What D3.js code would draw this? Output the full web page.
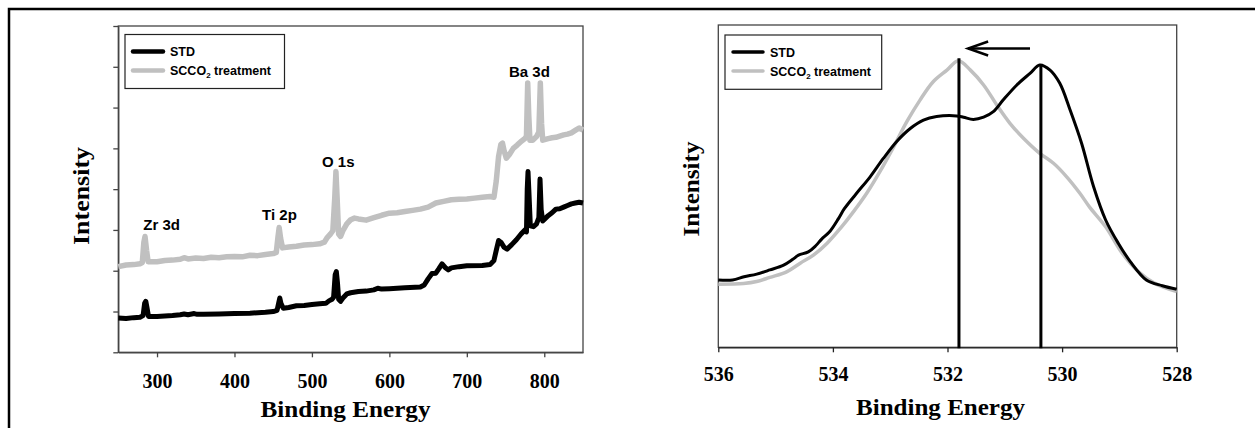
<!DOCTYPE html>
<html><head><meta charset="utf-8">
<script src="https://cdn.jsdelivr.net/npm/d3@7"></script>
<style>body{margin:0;background:#fff}svg{display:block}</style>
</head><body>
<svg id="c" width="1255" height="428"></svg>
<script>
// ---------- DATA ----------
const seriesNames = ["STD", "SCCO2 treatment"];
// Survey spectrum (left panel): [binding energy, intensity (arb.)]
const surveyStd = [[250,0.84],[260,0.83],[270,0.85],[278,0.86],[282,0.9],[284,1.2],[285.5,1.25],[287,1.1],[289,0.88],[300,0.88],[310,0.89],[320,0.9],[330,0.92],[335,0.94],[340,0.92],[348,0.95],[352,0.93],[360,0.93],[380,0.94],[400,0.95],[420,0.96],[440,0.98],[450,1.0],[455,1.03],[457,1.2],[458.5,1.33],[460,1.2],[463,1.08],[470,1.1],[480,1.14],[490,1.15],[500,1.17],[510,1.19],[518,1.2],[522,1.26],[526,1.3],[528,1.35],[530,1.9],[531.5,1.98],[533,1.7],[534.5,1.3],[537,1.25],[540,1.33],[545,1.43],[550,1.46],[560,1.49],[570,1.5],[580,1.53],[585,1.57],[590,1.55],[600,1.56],[620,1.58],[640,1.6],[645,1.65],[650,1.8],[655,1.93],[660,1.94],[664,2.05],[668,2.17],[672,2.08],[676,2.02],[680,2.07],[690,2.1],[700,2.12],[720,2.13],[730,2.15],[735,2.25],[738,2.5],[741,2.74],[744,2.7],[748,2.58],[752,2.53],[758,2.64],[764,2.76],[770,2.9],[775,3.0],[777,2.95],[778,4.0],[779,4.43],[780,4.0],[782,3.1],[786,3.08],[790,3.15],[793,3.3],[794.5,4.25],[796,3.5],[798,3.22],[805,3.35],[810,3.42],[815,3.51],[820,3.52],[825,3.56],[830,3.6],[835,3.64],[840,3.66],[845,3.68],[850,3.66]];
const surveyScco2 = [[250,2.1],[260,2.14],[270,2.15],[278,2.17],[281,2.2],[283,2.7],[284.5,2.84],[286.5,2.5],[288.5,2.22],[300,2.22],[310,2.25],[320,2.26],[330,2.28],[335,2.32],[340,2.29],[350,2.31],[360,2.3],[370,2.33],[380,2.32],[390,2.34],[400,2.35],[410,2.34],[420,2.38],[430,2.37],[440,2.4],[450,2.42],[454,2.45],[456,2.8],[457.7,3.06],[459.5,2.8],[462,2.56],[470,2.58],[480,2.6],[490,2.63],[500,2.64],[510,2.66],[516,2.7],[520,2.82],[524,2.9],[527,2.98],[529.5,3.8],[531,4.43],[532.5,3.8],[534.5,2.9],[537,2.84],[540,2.98],[545,3.15],[550,3.25],[555,3.29],[560,3.27],[570,3.24],[580,3.3],[590,3.36],[600,3.41],[610,3.42],[620,3.45],[630,3.48],[640,3.51],[650,3.56],[660,3.66],[670,3.7],[680,3.74],[690,3.75],[700,3.76],[710,3.78],[720,3.8],[730,3.82],[735,3.8],[738,4.2],[741,4.8],[744,5.1],[746,5.13],[748,4.95],[751,4.76],[755,4.85],[760,5.0],[765,5.08],[770,5.17],[775,5.24],[777,5.3],[778.6,6.6],[780,5.8],[781.5,5.2],[785,5.2],[790,5.29],[793,5.4],[794.9,6.6],[796.5,5.6],[798,5.2],[805,5.24],[810,5.26],[815,5.27],[820,5.3],[825,5.33],[830,5.35],[835,5.38],[840,5.44],[845,5.5],[850,5.45]];
const surveyTicksX = [300,400,500,600,700,800];
const surveyTicksY = [0,1,2,3,4,5,6,7,8];
const peakLabels = [{t:"Zr 3d",e:282.3,v:3.0},{t:"Ti 2p",e:435.7,v:3.24},{t:"O 1s",e:513,v:4.54},{t:"Ba 3d",e:754.4,v:6.75}];

// O 1s spectrum (right panel): [binding energy, intensity (arb.)]
const o1sStd = [[536,20.9],[535.75,20.9],[535.55,21.9],[535.33,22.7],[535.1,24],[534.86,25.5],[534.7,27.3],[534.6,28.6],[534.43,29.6],[534.3,31.5],[534.2,33.5],[534.05,36],[533.9,40],[533.8,43],[533.6,47.5],[533.35,52.9],[533.12,58.6],[532.89,63.8],[532.65,67.9],[532.42,70.5],[532.19,71.6],[531.84,71.8],[531.72,71.4],[531.55,70.7],[531.37,71.4],[531.2,73.1],[531.03,76.7],[530.79,81.4],[530.56,85],[530.39,87.6],[530.21,86],[530.04,81.9],[529.86,73.6],[529.66,63.3],[529.45,49.8],[529.24,39.5],[529.02,32.3],[528.81,26.6],[528.53,20.9],[528.25,19.1],[528,18]];
const o1sScco2 = [[536,19.6],[535.56,19.8],[535.33,20.4],[535.1,21.7],[534.8,23.5],[534.57,26.1],[534.34,28.6],[534.1,32.3],[533.87,36.9],[533.64,42.1],[533.41,47.8],[533.18,54.5],[532.94,62.2],[532.71,70],[532.48,76.7],[532.25,82.4],[532.01,86],[531.81,88.9],[531.6,86],[531.37,81.4],[531.14,75.2],[530.91,69.5],[530.67,64.8],[530.39,60.2],[530.15,57.1],[529.92,52.9],[529.69,47.8],[529.52,43.5],[529.24,37.4],[528.95,29.2],[528.67,23.5],[528.39,19.9],[528,17.3]];
const o1sTicksX = [536,534,532,530,528];
const peakMarkers = [{e:531.8,v:89.7},{e:530.37,v:87.9}];
const shiftArrow = {from:530.56,to:531.64,v:92.7};

// ---------- DRAW ----------
const svg = d3.select("#c");
const GRAY = "#c0c0c0";
const serif = "'Liberation Serif','Times New Roman',serif";
const sans = "'Liberation Sans',Arial,sans-serif";

// outer frame (clipped at right/bottom)
svg.append("path").attr("d","M9,428V9H1255").attr("fill","none").attr("stroke","#000").attr("stroke-width",2.5);

function legend(g, x, y, w, h, lw, lines) {
  g.append("rect").attr("x",x).attr("y",y).attr("width",w).attr("height",h)
    .attr("fill","#fff").attr("stroke","#222").attr("stroke-width",1.2);
  lines.forEach((d,i)=>{
    const yy = y + 17 + i*19;
    g.append("line").attr("x1",x+8).attr("x2",x+38).attr("y1",yy).attr("y2",yy)
      .attr("stroke",d.c).attr("stroke-width",lw).attr("stroke-linecap","round");
    const t = g.append("text").attr("x",x+45).attr("y",yy+4.5)
      .attr("font-family",sans).attr("font-weight","bold").attr("font-size",12.5).attr("fill","#000");
    if (d.n === "SCCO2 treatment") {
      t.append("tspan").text("SCCO");
      t.append("tspan").attr("font-size",8).attr("dy",3).text("2");
      t.append("tspan").attr("dy",-3).text(" treatment");
    } else t.text(d.n);
  });
}

// ---- Left panel ----
{
  const L = {l:118.3, r:583, t:26, b:352.3};
  const x = d3.scaleLinear().domain([250,850]).range([L.l,L.r]);
  const y = d3.scaleLinear().domain([0,8]).range([L.b,L.t]);
  const g = svg.append("g");
  g.append("rect").attr("x",L.l).attr("y",L.t).attr("width",L.r-L.l).attr("height",L.b-L.t)
    .attr("fill","none").attr("stroke","#444").attr("stroke-width",1.3);
  const xa = g.append("g").attr("transform",`translate(0,${L.b})`)
    .call(d3.axisBottom(x).tickValues(surveyTicksX).tickSize(5).tickPadding(17).tickSizeOuter(0));
  xa.select(".domain").attr("stroke","#444").attr("stroke-width",1.3);
  xa.selectAll(".tick line").attr("stroke","#444").attr("stroke-width",1.3);
  xa.selectAll("text").attr("font-family",serif).attr("font-weight","bold").attr("font-size",20).attr("fill","#000");
  const ya = g.append("g").attr("transform",`translate(${L.l},0)`)
    .call(d3.axisLeft(y).tickValues(surveyTicksY).tickSize(5).tickFormat("").tickSizeOuter(0));
  ya.select(".domain").attr("stroke","#444").attr("stroke-width",1.3);
  ya.selectAll(".tick line").attr("stroke","#444").attr("stroke-width",1.3);

  const line = d3.line().x(d=>x(d[0])).y(d=>y(d[1]));
  g.append("path").datum(surveyScco2).attr("d",line).attr("fill","none").attr("stroke",GRAY).attr("stroke-width",5.5).attr("stroke-linejoin","round");
  g.append("path").datum(surveyStd).attr("d",line).attr("fill","none").attr("stroke","#000").attr("stroke-width",5).attr("stroke-linejoin","round");

  g.selectAll(".pl").data(peakLabels).join("text").attr("x",d=>x(d.e)).attr("y",d=>y(d.v))
    .attr("font-family",sans).attr("font-weight","bold").attr("font-size",15).attr("fill","#000").text(d=>d.t);

  legend(g, 125, 34.5, 159.5, 54, 4.5, [{n:seriesNames[0],c:"#000"},{n:seriesNames[1],c:GRAY}]);

  g.append("text").attr("x",345.5).attr("y",416.5).attr("text-anchor","middle")
    .attr("font-family",serif).attr("font-weight","bold").attr("font-size",24)
    .attr("textLength",170).attr("lengthAdjust","spacingAndGlyphs").text("Binding Energy");
  g.append("text").attr("transform","translate(89,196) rotate(-90)").attr("text-anchor","middle")
    .attr("font-family",serif).attr("font-weight","bold").attr("font-size",24)
    .attr("textLength",98).attr("lengthAdjust","spacingAndGlyphs").text("Intensity");
}

// ---- Right panel ----
{
  const R = {l:718.3, r:1176.7, t:25, b:347.3};
  const x = d3.scaleLinear().domain([536,528]).range([R.l,R.r]);
  const y = d3.scaleLinear().domain([0,100]).range([R.b,R.t]);
  const g = svg.append("g");
  g.append("rect").attr("x",R.l).attr("y",R.t).attr("width",R.r-R.l).attr("height",R.b-R.t)
    .attr("fill","none").attr("stroke","#444").attr("stroke-width",1.3);
  const xa = g.append("g").attr("transform",`translate(0,${R.b})`)
    .call(d3.axisBottom(x).tickValues(o1sTicksX).tickSize(5).tickPadding(15).tickSizeOuter(0));
  xa.select(".domain").attr("stroke","#222").attr("stroke-width",1.3);
  xa.selectAll(".tick line").attr("stroke","#222").attr("stroke-width",1.3);
  xa.selectAll("text").attr("font-family",serif).attr("font-weight","bold").attr("font-size",20).attr("fill","#000");

  const line = d3.line().x(d=>x(d[0])).y(d=>y(d[1])).curve(d3.curveCatmullRom.alpha(0.5));
  g.append("path").datum(o1sScco2).attr("d",line).attr("fill","none").attr("stroke",GRAY).attr("stroke-width",3.5);
  g.append("path").datum(o1sStd).attr("d",line).attr("fill","none").attr("stroke","#000").attr("stroke-width",3);

  g.selectAll(".pm").data(peakMarkers).join("line")
    .attr("x1",d=>x(d.e)).attr("x2",d=>x(d.e)).attr("y1",d=>y(d.v)).attr("y2",R.b+1)
    .attr("stroke","#000").attr("stroke-width",3);

  const ax1 = x(shiftArrow.from), ax2 = x(shiftArrow.to), ay = y(shiftArrow.v);
  g.append("line").attr("x1",ax1).attr("x2",ax2).attr("y1",ay).attr("y2",ay).attr("stroke","#000").attr("stroke-width",2.5);
  g.append("path").attr("d",`M${ax2+20},${ay-7}L${ax2},${ay}L${ax2+20},${ay+7}`)
    .attr("fill","none").attr("stroke","#000").attr("stroke-width",2.5).attr("stroke-linejoin","miter");

  legend(g, 725, 35, 156.7, 54.3, 3.5, [{n:seriesNames[0],c:"#000"},{n:seriesNames[1],c:GRAY}]);

  g.append("text").attr("x",940.5).attr("y",415).attr("text-anchor","middle")
    .attr("font-family",serif).attr("font-weight","bold").attr("font-size",24)
    .attr("textLength",169).attr("lengthAdjust","spacingAndGlyphs").text("Binding Energy");
  g.append("text").attr("transform","translate(699,189) rotate(-90)").attr("text-anchor","middle")
    .attr("font-family",serif).attr("font-weight","bold").attr("font-size",24)
    .attr("textLength",95).attr("lengthAdjust","spacingAndGlyphs").text("Intensity");
}
</script>
</body></html>
